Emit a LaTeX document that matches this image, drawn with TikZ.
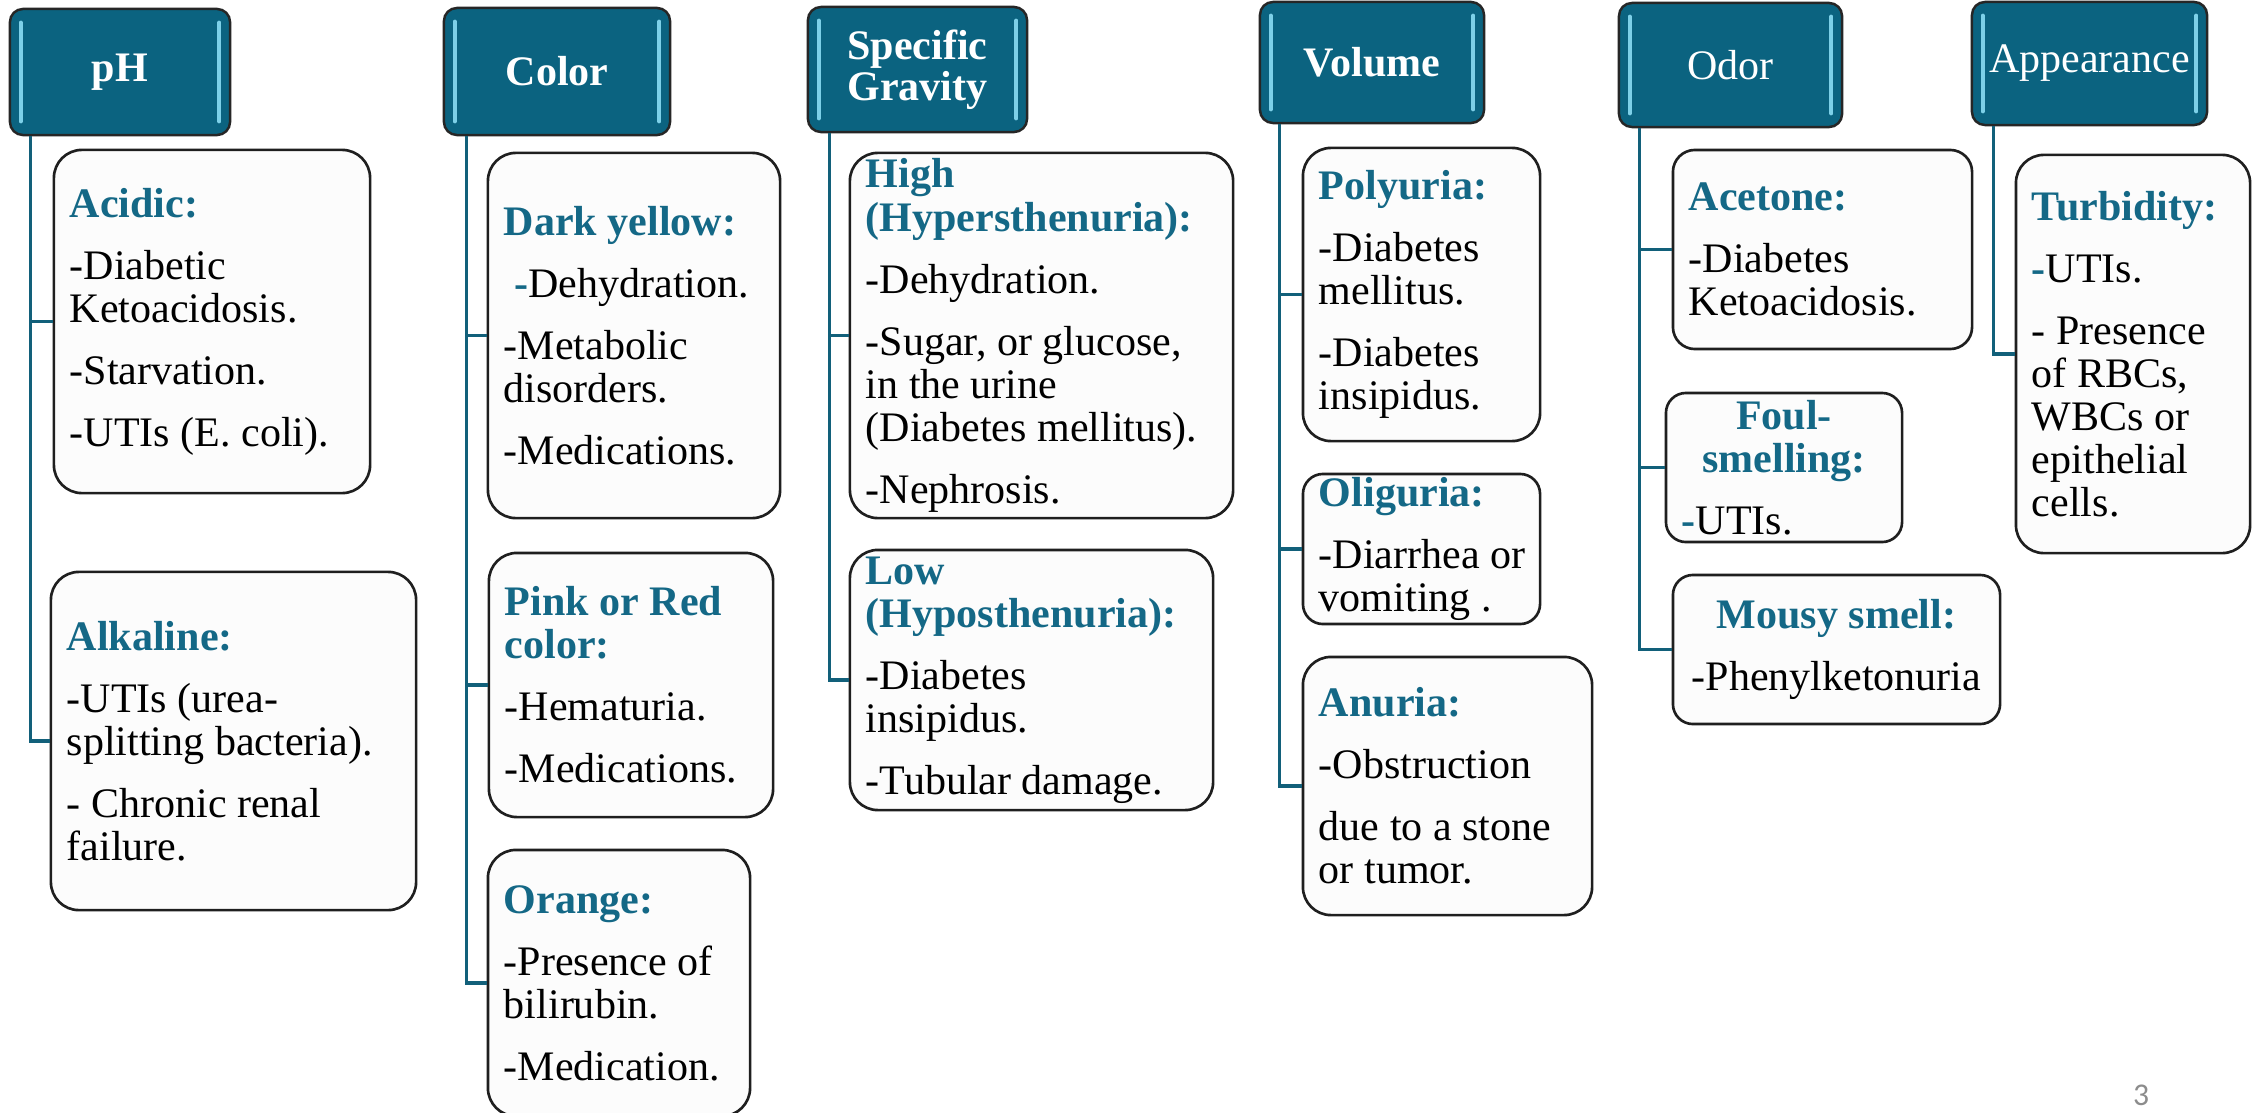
\documentclass[tikz,border=0pt]{standalone}
\usepackage{fontspec}
\setmainfont{Liberation Serif}
\newfontfamily\pgnumfont{Carlito}
\usetikzlibrary{calc}
\definecolor{hdrfill}{RGB}{11,99,128}
\definecolor{tealtxt}{RGB}{20,104,134}
\definecolor{connc}{RGB}{18,96,122}
\definecolor{hlc}{RGB}{125,208,232}
\definecolor{boxfill}{RGB}{252,252,252}
\newcommand{\bodyfont}{\fontsize{11.95}{12.24}\selectfont\frenchspacing}
\newcommand{\hdrfont}{\fontsize{11.95}{11.8}\selectfont}
\newcommand{\pg}{5.4pt}
\newcommand{\hd}[1]{\textcolor{tealtxt}{\textbf{#1}}}
\newcommand{\td}{\textcolor{tealtxt}{\textbf{-}}}
\tikzset{
  cbox/.style={draw=black!88, line width=0.75pt, fill=boxfill, rounded corners=0.28cm,
    inner xsep=0.16cm, inner ysep=0pt, align=flush left, font=\bodyfont},
  hdrbox/.style={draw=black!85, line width=0.7pt, fill=hdrfill, rounded corners=0.13cm,
    text=white, align=center, inner sep=0pt, font=\hdrfont},
  conn/.style={draw=connc, line width=0.9pt},
  hlline/.style={draw=hlc, line width=1.2pt, line cap=round},
}
\newcommand{\cbx}[7][]{%
  \pgfmathsetmacro{\bxW}{(#5-#3)/100}%
  \pgfmathsetmacro{\bxH}{(#6-#4)/100}%
  \pgfmathsetmacro{\bxT}{(#5-#3-32)/100}%
  \pgfmathsetmacro{\bxX}{(#3+#5)/2}%
  \pgfmathsetmacro{\bxY}{(#4+#6)/2}%
  \node[cbox, minimum width=\bxW cm, minimum height=\bxH cm, text width=\bxT cm, #1] (#2) at (\bxX,\bxY) {#7};%
}
\newcommand{\hdr}[6]{%
  \pgfmathsetmacro{\bxW}{(#4-#2)/100}%
  \pgfmathsetmacro{\bxH}{(#5-#3)/100}%
  \pgfmathsetmacro{\bxX}{(#2+#4)/2}%
  \pgfmathsetmacro{\bxY}{(#3+#5)/2}%
  \node[hdrbox, minimum width=\bxW cm, minimum height=\bxH cm] (#1) at (\bxX,\bxY) {#6};%
  \draw[hlline] ($(#1.north west)+(12,15)$) -- ($(#1.south west)+(12,-15)$);%
  \draw[hlline] ($(#1.north east)+(-12,15)$) -- ($(#1.south east)+(-12,-15)$);%
}
\begin{document}
\begin{tikzpicture}[x=0.01cm, y=-0.01cm]
\fill[white] (0,0) rectangle (2264,1112);
\useasboundingbox (0,0) rectangle (2264,1112);

% headers
\hdr{ph}{10}{9}{230}{135}{\textbf{pH}}
\hdr{col}{444}{8}{670}{135}{\textbf{Color}}
\hdr{sg}{808}{7}{1027}{132}{\textbf{Specific}\\\textbf{Gravity}}
\hdr{vol}{1260}{2}{1484}{123}{\textbf{Volume}}
\hdr{odo}{1619}{3}{1842}{127}{Odor}
\hdr{app}{1972}{2}{2207}{125}{Appearance}

% pH
\cbx{acid}{54}{150}{370}{493}{\hd{Acidic:}\\[\pg]-Diabetic\\Ketoacidosis.\\[\pg]-Starvation.\\[\pg]-UTIs (E. coli).}
\cbx{alk}{51}{572}{416}{910}{\hd{Alkaline:}\\[\pg]-UTIs (urea-\\splitting bacteria).\\[\pg]- Chronic renal\\failure.}
% Color
\cbx{dark}{488}{153}{780}{518}{\hd{Dark yellow:}\\[\pg]\hspace*{0.25em}\td Dehydration.\\[\pg]-Metabolic\\disorders.\\[\pg]-Medications.}
\cbx{pink}{489}{553}{773}{817}{\hd{Pink or Red}\\\hd{color:}\\[\pg]-Hematuria.\\[\pg]-Medications.}
\cbx{oran}{488}{850}{750}{1116}{\hd{Orange:}\\[\pg]-Presence of\\bilirubin.\\[\pg]-Medication.}
% Specific gravity
\cbx{high}{850}{153}{1233}{518}{\hd{High}\\\hd{(Hypersthenuria):}\\[\pg]-Dehydration.\\[\pg]-Sugar, or glucose,\\in the urine\\(Diabetes mellitus).\\[\pg]-Nephrosis.}
\cbx{low}{850}{550}{1213}{810}{\hd{Low}\\\hd{(Hyposthenuria):}\\[\pg]-Diabetes\\insipidus.\\[\pg]-Tubular damage.}
% Volume
\cbx{poly}{1303}{148}{1540}{441}{\hd{Polyuria:}\\[\pg]-Diabetes\\mellitus.\\[\pg]-Diabetes\\insipidus.}
\cbx[rounded corners=0.2cm, inner xsep=0.14cm]{olig}{1303}{474}{1540}{624}{\hd{Oliguria:}\\[\pg]\mbox{-Diarrhea or}\\vomiting .}
\cbx{anur}{1303}{657}{1592}{915}{\hd{Anuria:}\\[\pg]-Obstruction\\[\pg]due to a stone\\or tumor.}
% Odor
\cbx[rounded corners=0.22cm]{acet}{1673}{150}{1972}{349}{\hd{Acetone:}\\[\pg]-Diabetes\\Ketoacidosis.}
\cbx[rounded corners=0.2cm]{foul}{1666}{393}{1902}{542}{\makebox[\linewidth]{\hd{Foul-}}\\\makebox[\linewidth]{\hd{smelling:}}\\[\pg]\td UTIs.}
\cbx[rounded corners=0.2cm, align=flush center]{mous}{1673}{575}{2000}{724}{\hd{Mousy smell:}\\[\pg]-Phenylketonuria}
% Appearance
\cbx{turb}{2016}{155}{2250}{553}{\hd{Turbidity:}\\[\pg]\td UTIs.\\[\pg]- Presence\\of RBCs,\\WBCs or\\epithelial\\cells.}

% connectors
\draw[conn] ([xshift=0.22cm]ph.south west) |- (acid.west);
\draw[conn] ([xshift=0.22cm]ph.south west) |- (alk.west);
\draw[conn] ([xshift=0.24cm]col.south west) |- (dark.west);
\draw[conn] ([xshift=0.24cm]col.south west) |- (pink.west);
\draw[conn] ([xshift=0.24cm]col.south west) |- (oran.west);
\draw[conn] ([xshift=0.23cm]sg.south west) |- (high.west);
\draw[conn] ([xshift=0.23cm]sg.south west) |- (low.west);
\draw[conn] ([xshift=0.21cm]vol.south west) |- (poly.west);
\draw[conn] ([xshift=0.21cm]vol.south west) |- (olig.west);
\draw[conn] ([xshift=0.21cm]vol.south west) |- (anur.west);
\draw[conn] ([xshift=0.22cm]odo.south west) |- (acet.west);
\draw[conn] ([xshift=0.22cm]odo.south west) |- (foul.west);
\draw[conn] ([xshift=0.22cm]odo.south west) |- (mous.west);
\draw[conn] ([xshift=0.23cm]app.south west) |- (turb.west);

% page number
\node[font=\pgnumfont\fontsize{9}{10}\selectfont, text=black!45, inner sep=0pt] (pnum) at (2141,1095) {3};
\end{tikzpicture}
\end{document}
